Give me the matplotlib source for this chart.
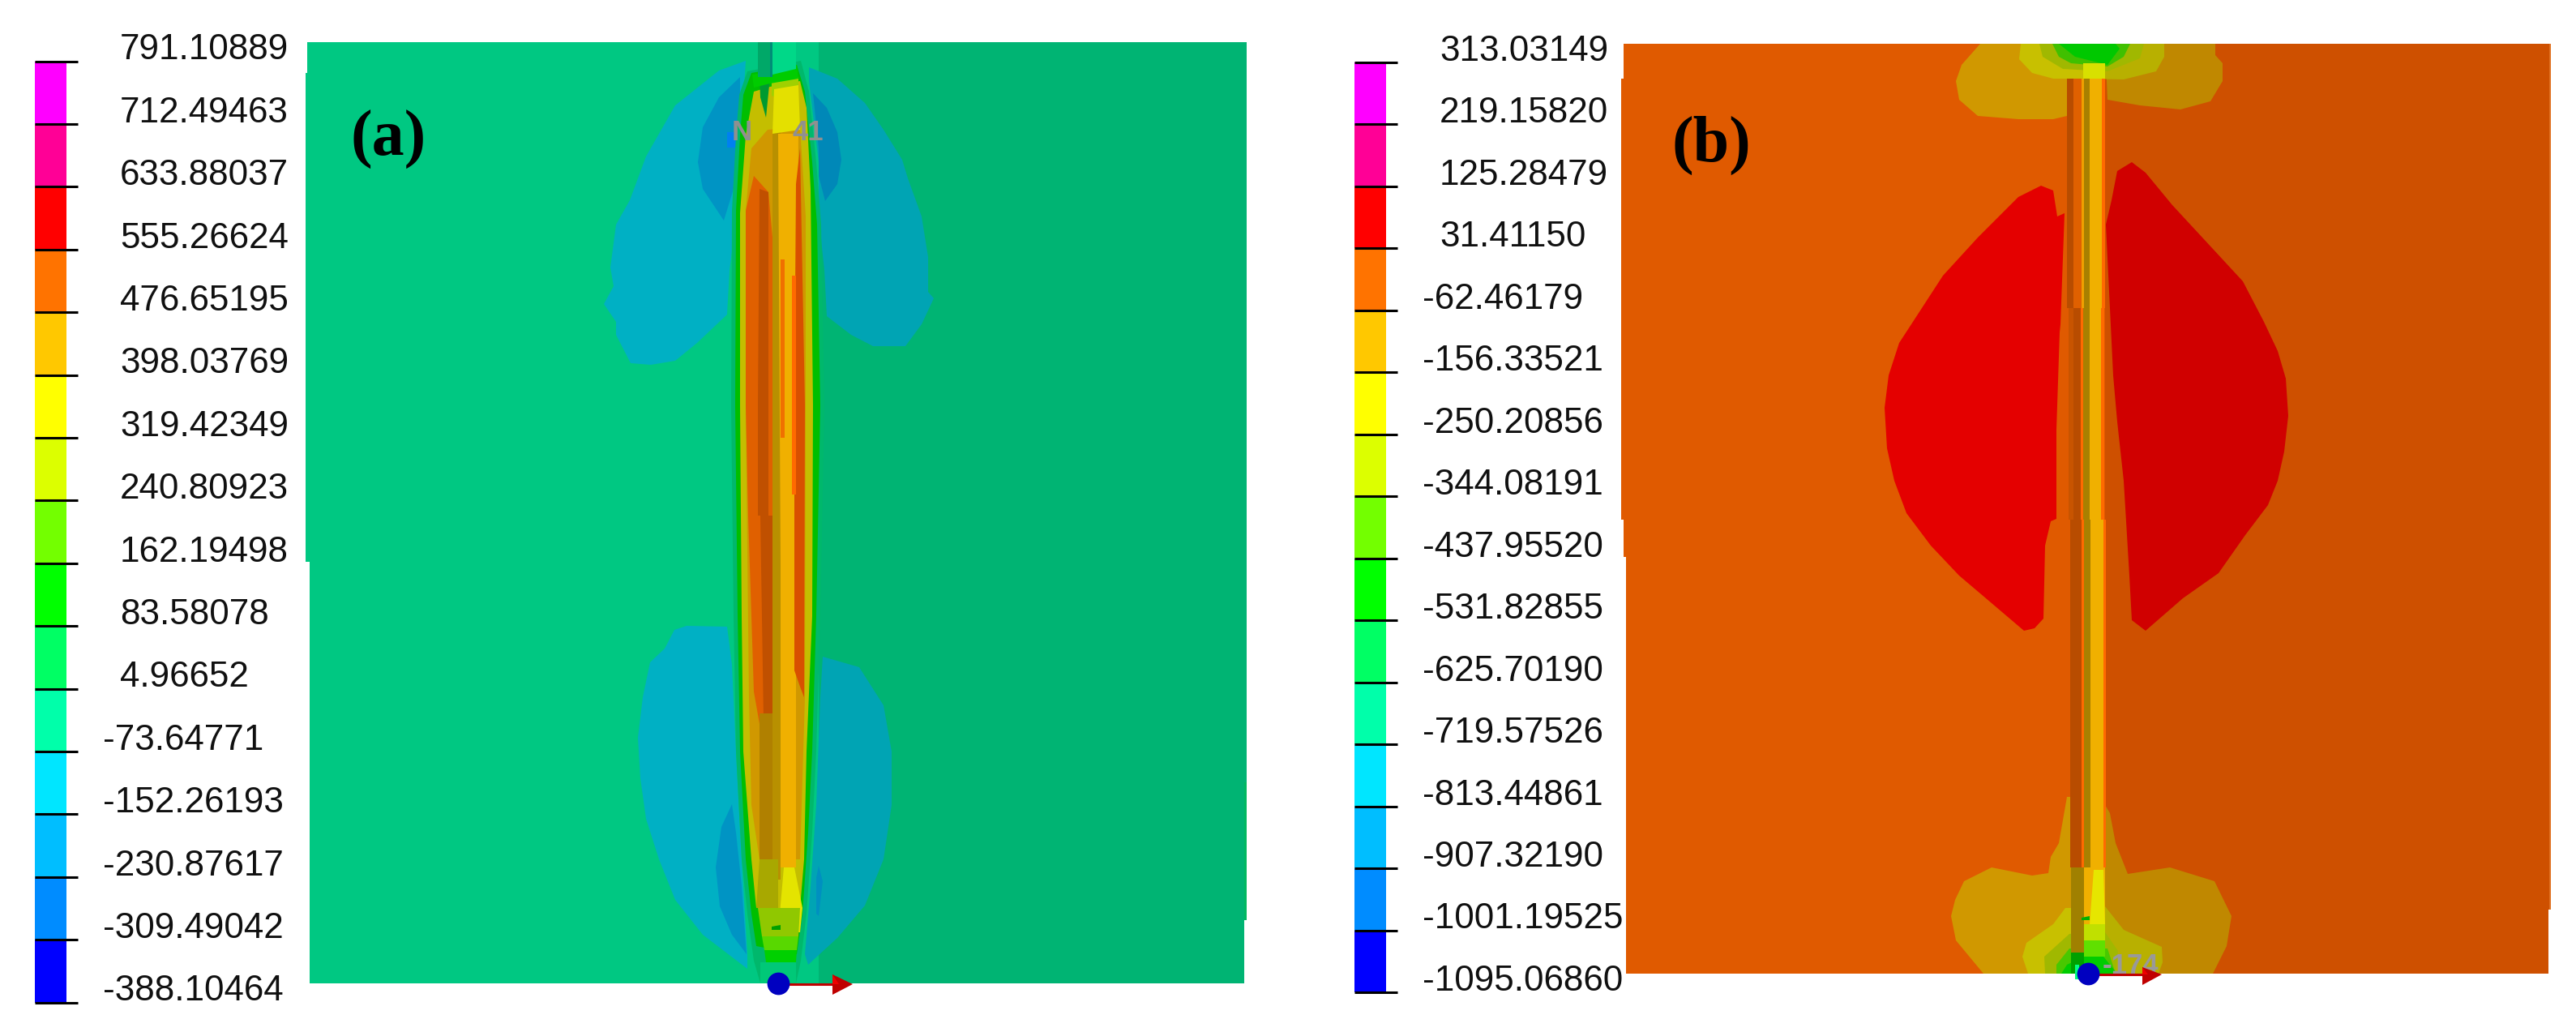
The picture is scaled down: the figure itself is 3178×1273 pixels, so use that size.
#!/usr/bin/env python3
"""Two stress contour maps around a rod, each with its stepped colour legend."""

import matplotlib
matplotlib.use('Agg')
import matplotlib.pyplot as plt

WIDTH, HEIGHT = 3178, 1273

# legend values, top to bottom
labels_a = ['791.10889', '712.49463', '633.88037', '555.26624', '476.65195', '398.03769',
            '319.42349', '240.80923', '162.19498', '83.58078', '4.96652', '-73.64771',
            '-152.26193', '-230.87617', '-309.49042', '-388.10464']
labels_b = ['313.03149', '219.15820', '125.28479', '31.41150', '-62.46179', '-156.33521',
            '-250.20856', '-344.08191', '-437.95520', '-531.82855', '-625.70190', '-719.57526',
            '-813.44861', '-907.32190', '-1001.19525', '-1095.06860']
band_colors = ['#FF00FF', '#FF0096', '#FF0000', '#FF7300', '#FFC800', '#FFFF00', '#DCFF00', '#73FF00',
               '#00FF00', '#00FF64', '#00FFAA', '#00E6FF', '#00BEFF', '#008CFF', '#0000FF', ]

# panel (a) background
a_left_bg = [(379, 52), (1010, 52), (1010, 1213), (382, 1213), (382, 693), (377, 693), (377, 90), (379, 90)]
a_right_bg = [(1010, 52), (1538, 52), (1538, 1135), (1535, 1135), (1535, 1213), (1010, 1213)]
a_right_sliver = [(1535, 965), (1538, 965), (1538, 1135), (1535, 1135)]

# panel (a) blue lobes
a_lobe_ul = [(920, 75), (887, 87), (833, 130), (797, 193), (777, 247), (760, 277), (753, 330), (757, 353),
             (745, 375), (760, 397), (760, 413), (778, 448), (803, 450), (833, 445), (860, 423), (897, 388),
             (900, 333), (910, 257), (913, 187)]
a_lobe_ul_in = [(913, 95), (887, 120), (867, 157), (861, 200), (867, 233), (893, 272), (905, 233), (913, 167)]
a_spot = [(897, 163), (910, 163), (910, 182), (897, 182)]
a_lobe_ur = [(998, 83), (1033, 97), (1067, 127), (1090, 160), (1113, 197), (1120, 220), (1137, 267), (1145, 317),
             (1145, 360), (1152, 368), (1137, 400), (1117, 427), (1077, 427), (1050, 413), (1020, 390),
             (1017, 333), (1010, 267), (1010, 200), (998, 100)]
a_lobe_ur_in = [(1003, 115), (1020, 133), (1033, 163), (1038, 197), (1033, 227), (1018, 248), (1010, 217), (1010, 183)]
a_lobe_ll = [(832, 777), (847, 772), (897, 773), (903, 820), (908, 927), (913, 1027), (922, 1177), (922, 1195),
             (867, 1153), (833, 1110), (813, 1060), (797, 1010), (790, 960), (787, 910), (793, 860), (802, 817),
             (820, 800)]
a_lobe_ll_in = [(903, 992), (890, 1020), (883, 1070), (888, 1118), (903, 1153), (921, 1177), (915, 1093), (908, 1027)]
a_lobe_lr = [(1015, 810), (1060, 823), (1090, 870), (1100, 927), (1100, 993), (1090, 1060), (1067, 1117), (1033, 1157),
             (997, 1190), (993, 1177), (1000, 1093), (1007, 993), (1012, 860)]
a_lobe_lr_in = [(1010, 1068), (1015, 1087), (1010, 1130), (1007, 1127), (1007, 1083)]

# panel (a) rod, outer layers first
a_rod_halo = [(922, 88), (912, 117), (908, 167), (903, 260), (902, 500), (905, 760), (908, 927), (915, 1060),
              (922, 1127), (930, 1185), (938, 1213), (982, 1213), (988, 1185), (995, 1127), (1002, 1027),
              (1007, 927), (1012, 760), (1017, 500), (1013, 277), (1007, 200), (998, 113), (988, 75)]
a_rod_green = [(927, 90), (917, 117), (913, 167), (908, 260), (907, 500), (910, 760), (913, 927), (920, 1060),
               (927, 1127), (933, 1167), (983, 1177), (990, 1127), (997, 1027), (1002, 927), (1007, 760),
               (1012, 500), (1008, 277), (1002, 200), (993, 113), (983, 80)]
a_rod_olive = [(930, 113), (920, 167), (913, 263), (913, 500), (915, 760), (917, 927), (927, 1060), (933, 1120),
               (987, 1120), (992, 1060), (995, 927), (1002, 760), (1003, 500), (1000, 233), (995, 133),
               (987, 100), (950, 107)]
a_rod_amber = [(927, 183), (920, 260), (920, 500), (924, 860), (927, 993), (937, 1060), (987, 1060), (993, 860),
               (994, 500), (994, 267), (987, 157), (947, 160)]
a_rod_orange = [(930, 217), (948, 237), (953, 293), (953, 883), (937, 893), (930, 853), (927, 760), (923, 636), (920, 500), (920, 260)]
a_rod_dark = [(937, 233), (948, 237), (948, 636), (953, 636), (953, 887), (942, 887), (938, 636), (935, 636), (935, 500)]
a_rod_ochre_low = [(937, 880), (953, 880), (953, 1060), (937, 1060)]
a_rod_column = [(953, 160), (963, 160), (963, 1085), (953, 1085)]
a_rod_bright = [(960, 165), (985, 165), (982, 700), (982, 1070), (963, 1070), (963, 700)]
a_rod_right = [(987, 183), (993, 500), (992, 860), (987, 847), (980, 827), (980, 500), (982, 227)]
a_rod_hot1 = [(963, 320), (968, 320), (968, 540), (963, 540)]
a_rod_hot2 = [(977, 340), (982, 340), (982, 610), (977, 610)]
a_rod_yellow_top = [(955, 110), (985, 105), (987, 160), (953, 165)]
a_rod_lime_top = [(952, 100), (985, 95), (985, 130), (952, 118)]
a_rod_vee = [(937, 95), (950, 95), (945, 145), (938, 120)]
a_rod_yellow_low = [(967, 1070), (980, 1070), (990, 1120), (987, 1150), (960, 1150)]
a_rod_ochre_end = [(937, 1060), (960, 1060), (960, 1120), (933, 1120)]
a_rod_lime_low = [(935, 1120), (987, 1120), (985, 1155), (940, 1155)]
a_rod_green_low = [(940, 1155), (985, 1155), (983, 1172), (943, 1172)]
a_rod_brightgreen_low = [(943, 1172), (983, 1172), (982, 1187), (945, 1187)]
a_rod_tube_low = [(938, 1187), (982, 1187), (982, 1213), (938, 1213)]
a_tick = [(952, 1143), (963, 1141), (963, 1147), (952, 1147)]
a_tube_top_l = [(935, 52), (950, 52), (950, 95), (935, 95)]
a_tube_top_m = [(950, 52), (953, 52), (953, 95), (950, 95)]
a_tube_top_r = [(953, 52), (982, 52), (982, 85), (953, 92)]
a_tube_green = [(928, 92), (953, 88), (983, 80), (985, 97), (950, 103), (930, 108)]

# panel (b) background
b_left_bg = [(2003, 54), (2597, 54), (2597, 1201), (2006, 1201), (2006, 687), (2003, 687), (2003, 641), (2000, 641),
             (2000, 97), (2003, 97)]
b_right_bg = [(2597, 54), (3147, 54), (3147, 1122), (3144, 1122), (3144, 1201), (2597, 1201)]
b_right_edge = [(3145, 54), (3147, 54), (3147, 1122), (3145, 1122)]

# panel (b) red lobes
b_red_left = [(2518, 229), (2533, 235), (2538, 267), (2547, 263), (2542, 400), (2541, 410), (2537, 530), (2537, 640),
              (2530, 643), (2523, 673), (2521, 763), (2510, 775), (2497, 778), (2450, 738), (2417, 710), (2382, 673),
              (2352, 633), (2337, 593), (2328, 553), (2325, 503), (2330, 463), (2343, 423), (2358, 400), (2397, 340),
              (2440, 293), (2490, 243)]
b_red_right = [(2630, 200), (2647, 213), (2680, 253), (2730, 307), (2767, 347), (2793, 397), (2810, 433), (2820, 467),
               (2823, 513), (2818, 557), (2810, 593), (2798, 623), (2770, 660), (2737, 707), (2693, 738), (2647, 778),
               (2630, 765), (2627, 710), (2620, 593), (2612, 520), (2607, 463), (2603, 380), (2598, 277), (2605, 247),
               (2612, 211)]

# panel (b) top contour blobs
b_top_amber_l = [(2443, 54), (2420, 80), (2413, 100), (2417, 123), (2440, 143), (2490, 147), (2533, 147), (2550, 143), (2550, 54)]
b_top_amber_r = [(2597, 54), (2733, 54), (2733, 68), (2742, 78), (2742, 100), (2727, 125), (2690, 135), (2640, 130), (2600, 123)]
b_top_olive_l = [(2493, 54), (2491, 73), (2507, 90), (2533, 97), (2570, 97), (2570, 54)]
b_top_olive_r = [(2570, 54), (2670, 54), (2670, 70), (2660, 88), (2620, 98), (2570, 97)]
b_top_lime = [(2516, 54), (2520, 70), (2545, 85), (2600, 88), (2640, 72), (2645, 54)]
b_top_mid = [(2532, 54), (2540, 70), (2555, 78), (2600, 82), (2620, 70), (2628, 54)]
b_top_green = [(2540, 54), (2560, 70), (2600, 80), (2615, 60), (2610, 54)]
b_top_yellow = [(2570, 78), (2597, 78), (2597, 97), (2570, 97)]

# panel (b) bottom contour blobs
b_low_amber_l = [(2550, 983), (2540, 1040), (2530, 1057), (2527, 1077), (2507, 1080), (2457, 1070), (2423, 1087),
                 (2412, 1110), (2407, 1130), (2413, 1160), (2447, 1201), (2555, 1201), (2555, 983)]
b_low_amber_r = [(2597, 993), (2603, 1003), (2610, 1040), (2625, 1078), (2677, 1070), (2732, 1087), (2753, 1130),
                 (2747, 1167), (2730, 1201), (2597, 1201)]
b_low_olive_l = [(2548, 1120), (2533, 1140), (2500, 1163), (2495, 1180), (2502, 1201), (2555, 1201), (2555, 1120)]
b_low_olive_r = [(2597, 1118), (2620, 1147), (2667, 1168), (2668, 1187), (2663, 1201), (2597, 1201)]
b_low_lime = [(2553, 1152), (2522, 1180), (2523, 1201), (2610, 1201), (2613, 1173), (2597, 1150)]
b_low_mid = [(2553, 1170), (2537, 1190), (2537, 1201), (2610, 1201), (2600, 1170)]
b_low_green = [(2550, 1190), (2543, 1201), (2612, 1201), (2595, 1180), (2571, 1180)]

# panel (b) rod stripes: y range, x edges, then the colours between them
b_rod_y_up = (97, 380)
b_rod_edges_up = [2550, 2558, 2568, 2571, 2578, 2593, 2597]
b_rod_colors_up = ['#B84C00', '#E06000', '#F0A000', '#A88000', '#F0B000', '#FF6A00']
b_rod_y_mid = (380, 641)
b_rod_edges_mid = [2552, 2558, 2567, 2570, 2578, 2592, 2596]
b_rod_colors_mid = ['#C85400', '#B84C00', '#FF6A00', '#A88000', '#F0B000', '#FF6A00']
b_rod_y_low = (641, 1070)
b_rod_edges_low = [2554, 2560, 2568, 2571, 2579, 2595, 2598]
b_rod_colors_low = ['#B84C00', '#B84C00', '#FF6A00', '#A88000', '#F0B000', '#FF6A00']
b_rod_yellow = [(2583, 1073), (2595, 1073), (2597, 1140), (2578, 1140)]
b_rod_lime2 = [(2571, 1140), (2597, 1140), (2597, 1160), (2571, 1160)]
b_rod_green2 = [(2571, 1160), (2597, 1160), (2597, 1180), (2571, 1180)]
b_rod_ochre_end = [(2555, 1070), (2571, 1070), (2571, 1175), (2555, 1175)]
b_rod_amber_end = [(2571, 1070), (2597, 1070), (2597, 1140), (2571, 1140)]
b_rod_dark_end = [(2555, 1175), (2571, 1175), (2571, 1201), (2555, 1201)]
b_tick = [(2568, 1132), (2578, 1130), (2578, 1135), (2568, 1135)]
b_sliver = [(2560, 1190), (2565, 1190), (2565, 1208), (2560, 1208)]


def px_axes(fig, x0, y0, x1, y1):
    """Axes placed by its pixel corners, y counted from the top of the picture."""
    return fig.add_axes([x0 / WIDTH, 1 - y1 / HEIGHT, (x1 - x0) / WIDTH, (y1 - y0) / HEIGHT])


def patch(ax, pts, color, z=2):
    xs = [p[0] for p in pts]
    ys = [p[1] for p in pts]
    ax.fill(xs, ys, color=color, lw=0, zorder=z)


def draw_legend(fig, labels, x0, y_top, y_bottom):
    # bars sit on the real value scale, labels hang off the same ticks
    ax = px_axes(fig, x0, y_top, x0 + 53, y_bottom)
    values = [float(s) for s in labels]
    ax.set_xlim(0, 53)
    ax.set_ylim(values[-1], values[0])
    ax.axis('off')
    for i, col in enumerate(band_colors):
        ax.bar(0, values[i] - values[i + 1], width=39, bottom=values[i + 1], align='edge', color=col, lw=0)
    ax.hlines(values, 0, 53, color='black', lw=2.2, clip_on=False, zorder=3)
    for s, v in zip(labels, values):
        tx = 84 if s.startswith('-') else 105
        ax.annotate(s, (tx, v), xytext=(0, 1.5), textcoords='offset points', annotation_clip=False,
                    fontsize=31.7, family='Liberation Sans', color='#101010', va='baseline', ha='left')


def draw_panel_a(ax):
    patch(ax, a_left_bg, '#00C882', 1)
    patch(ax, a_right_bg, '#00B473', 1)
    patch(ax, a_right_sliver, '#00B860', 1)
    for pts in (a_lobe_ul, a_lobe_ll):
        patch(ax, pts, '#00B0C4')
    for pts in (a_lobe_ul_in, a_lobe_ll_in):
        patch(ax, pts, '#0094C4')
    patch(ax, a_spot, '#0080F0')
    patch(ax, a_lobe_ur, '#00A4B4')
    patch(ax, a_lobe_lr, '#00A4B4')
    patch(ax, a_lobe_ur_in, '#0088B8')
    patch(ax, a_lobe_lr_in, '#0090C0')

    rod_layers = [(a_rod_halo, '#00B86C'), (a_rod_green, '#00BE00'), (a_rod_olive, '#C4BE00'), (a_rod_amber, '#D09800'),
                  (a_rod_orange, '#E06000'), (a_rod_dark, '#C05000'), (a_rod_ochre_low, '#B08000'),
                  (a_rod_column, '#B89000'), (a_rod_bright, '#F0B000'), (a_rod_right, '#D85000'),
                  (a_rod_hot1, '#F07000'), (a_rod_hot2, '#FF6A00'), (a_rod_lime_top, '#A0D000'),
                  (a_rod_yellow_top, '#E4E000'), (a_rod_vee, '#009A30'), (a_rod_ochre_end, '#A8A800'),
                  (a_rod_yellow_low, '#E4E400'), (a_rod_lime_low, '#90C800'), (a_rod_green_low, '#58D800'),
                  (a_rod_brightgreen_low, '#00D000'), (a_rod_tube_low, '#00C878'), (a_tube_green, '#00CC00'),
                  (a_tube_top_l, '#00A868'), (a_tube_top_m, '#008C78'), (a_tube_top_r, '#00D888'),
                  (a_tick, '#00A000')]
    for k, (pts, col) in enumerate(rod_layers):
        patch(ax, pts, col, 3 + k * 0.01)

    ax.text(903, 173, 'N', color='#909090', fontsize=25, fontweight='bold', family='Liberation Sans', zorder=5)
    ax.text(978, 173, '41', color='#909090', fontsize=25, fontweight='bold', family='Liberation Sans', zorder=5)
    ax.text(432, 192, '(a)', fontsize=57.6, fontweight='bold', family='Liberation Serif', color='black', zorder=6)

    # origin marker and axis arrow
    ax.plot([973, 1033], [1214, 1214], color='#C00000', lw=2.2, zorder=6)
    patch(ax, [(1027, 1202), (1052, 1214), (1027, 1227)], '#C00000', 6)
    patch(ax, [(1027, 1202), (1035, 1214), (1027, 1214)], '#F00000', 6.1)
    ax.plot([960], [1213], 'o', ms=20, color='#0000C0', mew=0, zorder=7)


def draw_panel_b(ax):
    patch(ax, b_left_bg, '#E05A00', 1)
    patch(ax, b_right_bg, '#CE5000', 1)
    patch(ax, b_right_edge, '#E07020', 1)
    patch(ax, b_red_left, '#E40000')
    patch(ax, b_red_right, '#D00000')

    blobs = [(b_top_amber_l, '#D09800'), (b_top_amber_r, '#C08800'), (b_top_olive_l, '#C8C000'), (b_top_olive_r, '#B8B000'),
             (b_top_lime, '#A0B800'), (b_top_mid, '#40C000'), (b_top_green, '#00C800'),
             (b_low_amber_l, '#D09800'), (b_low_amber_r, '#C08800'), (b_low_olive_l, '#C8C000'),
             (b_low_olive_r, '#B8B000'), (b_low_lime, '#A0B800'), (b_low_mid, '#48C800'), (b_low_green, '#00CC00')]
    for k, (pts, col) in enumerate(blobs):
        patch(ax, pts, col, 2 + k * 0.01)

    # rod: three straight stretches, then the coloured foot
    stretches = [(b_rod_y_up, b_rod_edges_up, b_rod_colors_up),
                 (b_rod_y_mid, b_rod_edges_mid, b_rod_colors_mid),
                 (b_rod_y_low, b_rod_edges_low, b_rod_colors_low)]
    for (y0, y1), edges, colors in stretches:
        for i, col in enumerate(colors):
            patch(ax, [(edges[i], y0), (edges[i + 1], y0), (edges[i + 1], y1), (edges[i], y1)], col, 3)
    foot = [(b_rod_ochre_end, '#A08000'), (b_rod_amber_end, '#F0B000'), (b_rod_yellow, '#E6E600'), (b_rod_lime2, '#C0E000'),
            (b_rod_green2, '#60E000'), (b_rod_dark_end, '#00A000'), (b_top_yellow, '#D8E000'),
            (b_tick, '#00B000'), (b_sliver, '#00FF80')]
    for k, (pts, col) in enumerate(foot):
        patch(ax, pts, col, 3.1 + k * 0.01)

    ax.text(2062, 199, '(b)', fontsize=57.6, fontweight='bold', family='Liberation Serif', color='black', zorder=6)
    ax.text(2594, 1201, '-174', color='#999999', fontsize=25, fontweight='bold', family='Liberation Sans', zorder=5)

    ax.plot([2590, 2650], [1202, 1202], color='#C00000', lw=2.2, zorder=6)
    patch(ax, [(2643, 1193), (2667, 1202), (2643, 1215)], '#C00000', 6)
    patch(ax, [(2643, 1193), (2650, 1202), (2643, 1202)], '#F00000', 6.1)
    ax.plot([2576], [1201], 'o', ms=20, color='#0000C0', mew=0, zorder=7)


def main():
    fig = plt.figure(figsize=(WIDTH / 100, HEIGHT / 100), dpi=100, facecolor='white')

    ax = fig.add_axes([0, 0, 1, 1])
    ax.set_xlim(0, WIDTH)
    ax.set_ylim(HEIGHT, 0)
    ax.axis('off')
    draw_panel_a(ax)
    draw_panel_b(ax)

    draw_legend(fig, labels_a, 43, 75.5, 1236.5)
    draw_legend(fig, labels_b, 1671, 77, 1224)

    fig.savefig('out.png', dpi=100)


if __name__ == '__main__':
    main()
